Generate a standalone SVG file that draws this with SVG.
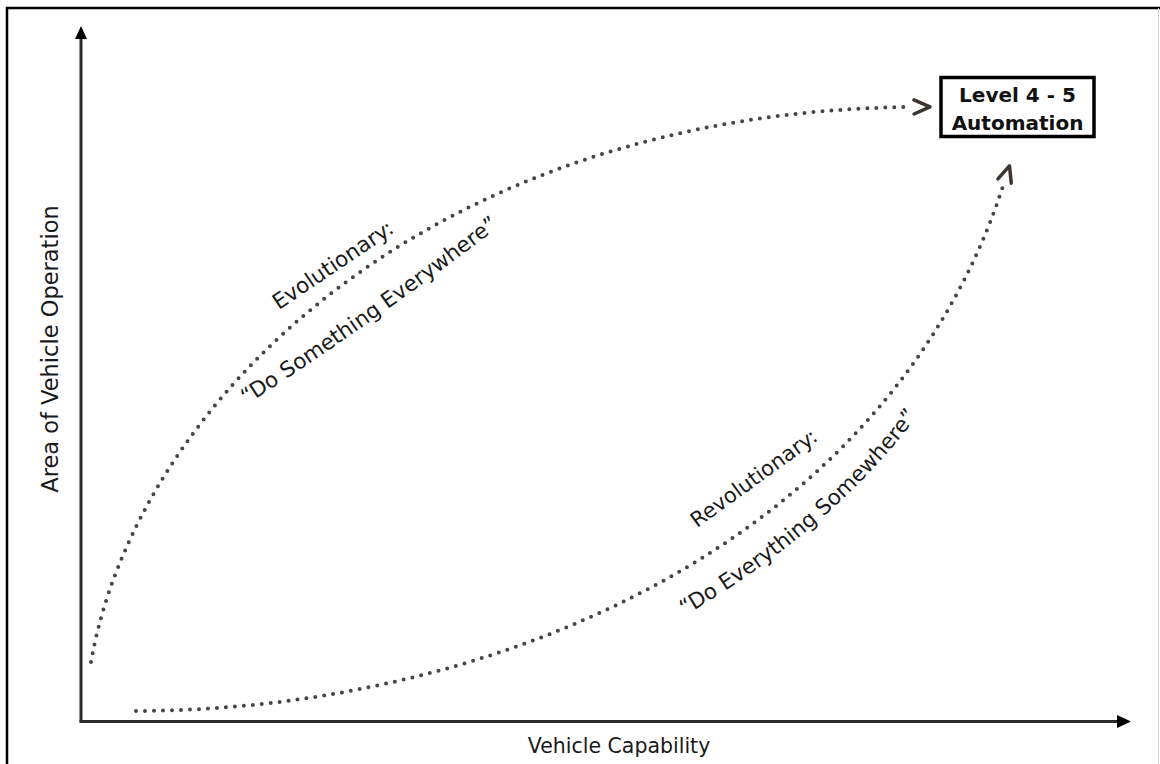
<svg xmlns="http://www.w3.org/2000/svg" width="1160" height="764" viewBox="0 0 1160 764">
  <style>
    .axis { stroke: #2b2b2b; stroke-width: 3; fill: none; }
    .axis-head { fill: #000; }
    .path-dots { fill: none; stroke: #4a4340; stroke-width: 4; stroke-linecap: round; stroke-dasharray: 0 9; }
    .chev { fill: none; stroke: #3d3531; stroke-width: 3.5; stroke-linecap: round; stroke-linejoin: round; }
    .label { font-family: "DejaVu Sans", "Liberation Sans", sans-serif; fill: #1a1a1a; }
    .box { fill: #fff; stroke: #000; stroke-width: 3.5; }
    .box-text { font-family: "DejaVu Sans", "Liberation Sans", sans-serif; font-weight: bold; font-size: 20px; fill: #111; text-anchor: middle; }
  </style>
  <defs>
    <marker id="chevron" markerUnits="userSpaceOnUse" markerWidth="40" markerHeight="40" refX="-18" refY="0" orient="auto" overflow="visible" viewBox="-30 -20 40 40">
      <path class="chev" d="M-16,-7 L0,0 L-16,7"/>
    </marker>
    <!-- baselines for the slogans that follow the curves -->
    <path id="evo-baseline" d="M246,405 Q365,329 500,226"/>
    <path id="rev-baseline" d="M666,626 C747,582 857,505 930,398"/>
  </defs>

  <rect width="1160" height="764" fill="#fff"/>

  <!-- frame -->
  <g id="frame">
    <line x1="6" y1="8" x2="1160" y2="8" stroke="#000" stroke-width="2.5"/>
    <line x1="7" y1="7" x2="7" y2="764" stroke="#000" stroke-width="2.5"/>
    <line x1="1158.5" y1="8" x2="1158.5" y2="764" stroke="#d8d8d8" stroke-width="1"/>
  </g>

  <!-- axes -->
  <g id="axes">
    <line class="axis" x1="81" y1="722" x2="81" y2="36"/>
    <polygon class="axis-head" points="81,26 75,39 87,39"/>
    <line class="axis" x1="79.5" y1="721.5" x2="1120" y2="721.5"/>
    <polygon class="axis-head" points="1131,721.5 1117,715 1117,728"/>
    <text class="label" font-size="20.5" x="619" y="753" text-anchor="middle">Vehicle Capability</text>
    <text class="label" font-size="22.5" text-anchor="middle" transform="translate(58,349) rotate(-90)">Area of Vehicle Operation</text>
  </g>

  <!-- development paths -->
  <g id="connectors">
    <path id="evolutionary" class="path-dots" d="M91,662 C137,400 430,112 912,107" marker-end="url(#chevron)"/>
    <path id="revolutionary" class="path-dots" d="M136,711 C500,710 890,540 1004,183" marker-end="url(#chevron)"/>
  </g>

  <g id="evolutionary-label">
    <text class="label" font-size="21.5" text-anchor="middle" transform="translate(337,271) rotate(-34)">Evolutionary:</text>
    <text class="label" font-size="21.5" text-anchor="middle"><textPath href="#evo-baseline" startOffset="50%">“Do Something Everywhere”</textPath></text>
  </g>

  <g id="revolutionary-label">
    <text class="label" font-size="21" text-anchor="middle" transform="translate(758,484) rotate(-36)">Revolutionary:</text>
    <text class="label" font-size="21.5" text-anchor="middle"><textPath href="#rev-baseline" startOffset="50%">“Do Everything Somewhere”</textPath></text>
  </g>

  <!-- target node -->
  <g id="automation">
    <rect class="box" x="941" y="77.5" width="153" height="59"/>
    <text class="box-text" x="1017.5" y="102">Level 4 - 5</text>
    <text class="box-text" x="1017.5" y="130">Automation</text>
  </g>
</svg>
